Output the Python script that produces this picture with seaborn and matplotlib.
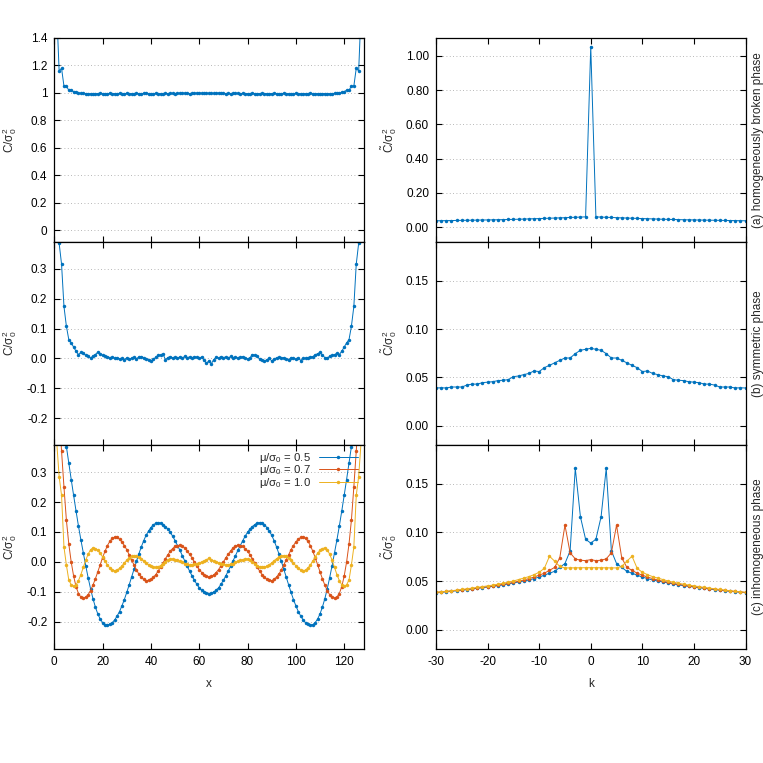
import matplotlib
matplotlib.use("Agg")
import matplotlib.pyplot as plt
from matplotlib.ticker import FormatStrFormatter, MultipleLocator
import seaborn as sns

# lattice sites (x-space) and momentum modes (k-space)
x_sites = list(range(1, 128))
k_modes = list(range(-30, 31))

# (a) homogeneously broken phase
corr_x_broken = [
    1.60, 1.16, 1.18, 1.05, 1.05, 1.02, 1.02, 1.01, 1.005, 1.000,
    0.998, 0.997, 0.996, 0.995, 0.995, 0.996, 0.995, 0.996, 0.997, 0.995,
    0.996, 0.995, 0.997, 0.996, 0.995, 0.996, 0.997, 0.996, 0.995, 0.997,
    0.996, 0.995, 0.996, 0.997, 0.996, 0.995, 0.997, 0.998, 0.996, 0.995,
    0.996, 0.997, 0.996, 0.995, 0.996, 0.997, 0.996, 0.998, 0.997, 0.996,
    0.997, 0.999, 1.000, 0.998, 0.997, 0.996, 0.997, 0.998, 0.999, 1.000,
    0.998, 0.997, 0.998, 0.997, 0.998, 0.997, 0.998, 1.000, 0.999, 0.997,
    0.996, 0.997, 0.996, 0.997, 0.998, 0.997, 0.996, 0.997, 0.996, 0.995,
    0.996, 0.997, 0.996, 0.995, 0.996, 0.997, 0.996, 0.995, 0.996, 0.995,
    0.997, 0.996, 0.995, 0.996, 0.997, 0.996, 0.995, 0.996, 0.995, 0.997,
    0.996, 0.995, 0.996, 0.995, 0.996, 0.997, 0.995, 0.996, 0.995, 0.996,
    0.995, 0.996, 0.995, 0.995, 0.996, 0.997, 0.998, 1.000, 1.005, 1.010,
    1.02, 1.02, 1.05, 1.05, 1.18, 1.16, 1.60,
]
corr_k_broken = [
    0.037, 0.0375, 0.038, 0.0385, 0.039, 0.0395, 0.040, 0.0405, 0.041, 0.0415,
    0.042, 0.0425, 0.043, 0.0438, 0.0445, 0.0453, 0.046, 0.047, 0.048, 0.049,
    0.050, 0.051, 0.052, 0.053, 0.054, 0.055, 0.0565, 0.0575, 0.0585, 0.060,
    1.055,
    0.060, 0.0585, 0.0575, 0.0565, 0.055, 0.054, 0.053, 0.052, 0.051, 0.050,
    0.049, 0.048, 0.047, 0.046, 0.0453, 0.0445, 0.0438, 0.043, 0.0425, 0.042,
    0.0415, 0.041, 0.0405, 0.040, 0.0395, 0.039, 0.0385, 0.038, 0.0375, 0.037,
]

# (b) symmetric phase
corr_x_sym = [
    0.60, 0.386, 0.316, 0.174, 0.108, 0.063, 0.052, 0.038, 0.024, 0.013,
    0.020, 0.017, 0.010, 0.008, 0.001, 0.008, 0.013, 0.021, 0.016, 0.010,
    0.008, 0.006, 0.003, 0.004, 0.001, 0.002, -0.001, 0.000, -0.004, 0.002,
    -0.003, 0.001, 0.004, -0.001, 0.005, 0.006, 0.003, -0.002, -0.004, -0.009,
    -0.003, 0.004, 0.010, 0.012, 0.015, -0.004, 0.003, 0.006, 0.002, 0.004,
    0.000, 0.006, 0.001, 0.007, 0.003, 0.005, 0.000, 0.006, 0.004, 0.001,
    0.005, -0.006, -0.016, -0.008, -0.018, -0.004, 0.004, 0.001, 0.006, 0.003,
    0.005, 0.000, 0.007, 0.002, 0.005, 0.001, 0.004, 0.006, 0.002, -0.002,
    0.002, 0.013, 0.011, 0.008, -0.002, -0.004, -0.009, -0.004, 0.000, -0.008,
    -0.002, 0.002, 0.004, 0.001, 0.003, -0.002, -0.004, 0.002, 0.001, -0.003,
    0.003, -0.007, 0.000, 0.001, 0.003, 0.005, 0.006, 0.012, 0.016, 0.020,
    0.011, 0.003, 0.000, 0.008, 0.010, 0.013, 0.017, 0.013, 0.024, 0.038,
    0.052, 0.063, 0.108, 0.174, 0.316, 0.386, 0.60,
]
corr_k_sym = [
    0.039, 0.0392, 0.039, 0.040, 0.040, 0.040, 0.042, 0.043, 0.043, 0.0445,
    0.045, 0.0455, 0.0466, 0.047, 0.0476, 0.0507, 0.0514, 0.0528, 0.054, 0.0566,
    0.056, 0.060, 0.0624, 0.065, 0.0676, 0.070, 0.070, 0.0745, 0.078, 0.079,
    0.080,
    0.079, 0.078, 0.0745, 0.070, 0.070, 0.0676, 0.065, 0.0624, 0.060, 0.056,
    0.0566, 0.054, 0.0528, 0.0514, 0.0507, 0.0476, 0.047, 0.0466, 0.0455, 0.045,
    0.0445, 0.043, 0.043, 0.042, 0.040, 0.040, 0.040, 0.039, 0.0392, 0.039,
]

# (c) inhomogeneous phase, three chemical potentials
mu_labels = [r"$\mathregular{\mu/\sigma_0}$ = 0.5",
             r"$\mathregular{\mu/\sigma_0}$ = 0.7",
             r"$\mathregular{\mu/\sigma_0}$ = 1.0"]
corr_x_mu05 = [
    0.80, 0.68, 0.56, 0.45, 0.385, 0.330, 0.275, 0.222, 0.170, 0.120,
    0.074, 0.031, -0.012, -0.052, -0.089, -0.122, -0.150, -0.173, -0.190, -0.202,
    -0.209, -0.210, -0.208, -0.202, -0.193, -0.180, -0.165, -0.146, -0.125, -0.101,
    -0.076, -0.050, -0.024, 0.002, 0.027, 0.050, 0.071, 0.089, 0.103, 0.115,
    0.124, 0.129, 0.131, 0.130, 0.125, 0.118, 0.110, 0.099, 0.086, 0.071,
    0.055, 0.039, 0.021, 0.004, -0.014, -0.030, -0.046, -0.061, -0.074, -0.086,
    -0.094, -0.100, -0.104, -0.105, -0.104, -0.100, -0.094, -0.086, -0.074, -0.061,
    -0.046, -0.030, -0.014, 0.004, 0.021, 0.039, 0.055, 0.071, 0.086, 0.099,
    0.110, 0.118, 0.125, 0.130, 0.131, 0.129, 0.124, 0.115, 0.103, 0.089,
    0.071, 0.050, 0.027, 0.002, -0.024, -0.050, -0.076, -0.101, -0.125, -0.146,
    -0.165, -0.180, -0.193, -0.202, -0.208, -0.210, -0.209, -0.202, -0.190, -0.173,
    -0.150, -0.122, -0.089, -0.052, -0.012, 0.031, 0.074, 0.120, 0.170, 0.222,
    0.275, 0.330, 0.385, 0.45, 0.56, 0.68, 0.80,
]
corr_x_mu07 = [
    0.65, 0.50, 0.37, 0.25, 0.14, 0.060, 0.000, -0.047, -0.082, -0.105,
    -0.117, -0.120, -0.117, -0.109, -0.095, -0.077, -0.056, -0.033, -0.009, 0.015,
    0.036, 0.055, 0.069, 0.079, 0.083, 0.082, 0.076, 0.067, 0.055, 0.041,
    0.024, 0.007, -0.010, -0.026, -0.040, -0.050, -0.058, -0.062, -0.061, -0.058,
    -0.051, -0.042, -0.030, -0.017, -0.003, 0.011, 0.024, 0.036, 0.045, 0.052,
    0.055, 0.056, 0.053, 0.047, 0.037, 0.026, 0.014, 0.000, -0.013, -0.025,
    -0.035, -0.043, -0.048, -0.050, -0.048, -0.043, -0.035, -0.025, -0.013, 0.000,
    0.014, 0.026, 0.037, 0.047, 0.053, 0.056, 0.055, 0.052, 0.045, 0.036,
    0.024, 0.011, -0.003, -0.017, -0.030, -0.042, -0.051, -0.058, -0.061, -0.062,
    -0.058, -0.050, -0.040, -0.026, -0.010, 0.007, 0.024, 0.041, 0.055, 0.067,
    0.076, 0.082, 0.083, 0.079, 0.069, 0.055, 0.036, 0.015, -0.009, -0.033,
    -0.056, -0.077, -0.095, -0.109, -0.117, -0.120, -0.117, -0.105, -0.082, -0.047,
    0.000, 0.060, 0.14, 0.25, 0.37, 0.50, 0.65,
]
corr_x_mu10 = [
    0.40, 0.285, 0.222, 0.050, -0.010, -0.060, -0.076, -0.081, -0.076, -0.062,
    -0.042, -0.018, 0.006, 0.026, 0.041, 0.047, 0.045, 0.039, 0.029, 0.017,
    0.003, -0.010, -0.020, -0.027, -0.029, -0.027, -0.021, -0.013, -0.003, 0.006,
    0.014, 0.019, 0.021, 0.020, 0.016, 0.011, 0.004, -0.003, -0.009, -0.014,
    -0.017, -0.018, -0.016, -0.012, -0.005, 0.001, 0.007, 0.010, 0.010, 0.008,
    0.006, 0.002, -0.001, -0.005, -0.007, -0.009, -0.009, -0.008, -0.006, -0.003,
    0.000, 0.003, 0.007, 0.013, 0.007, 0.003, 0.000, -0.003, -0.006, -0.008,
    -0.009, -0.009, -0.007, -0.005, -0.001, 0.002, 0.006, 0.008, 0.010, 0.010,
    0.007, 0.001, -0.005, -0.012, -0.016, -0.018, -0.017, -0.014, -0.009, -0.003,
    0.004, 0.011, 0.016, 0.020, 0.021, 0.019, 0.014, 0.006, -0.003, -0.013,
    -0.021, -0.027, -0.029, -0.027, -0.020, -0.010, 0.003, 0.017, 0.029, 0.039,
    0.045, 0.047, 0.041, 0.026, 0.006, -0.018, -0.042, -0.062, -0.076, -0.081,
    -0.076, -0.060, -0.010, 0.050, 0.222, 0.285, 0.40,
]
corr_k_mu05 = [
    0.038, 0.0385, 0.039, 0.0395, 0.040, 0.0406, 0.0412, 0.0418, 0.0425, 0.0432,
    0.0438, 0.0445, 0.0452, 0.046, 0.047, 0.048, 0.049, 0.050, 0.051, 0.0525,
    0.054, 0.056, 0.058, 0.060, 0.064, 0.068, 0.081, 0.166, 0.116, 0.093,
    0.089,
    0.093, 0.116, 0.166, 0.081, 0.068, 0.064, 0.060, 0.058, 0.056, 0.054,
    0.0525, 0.051, 0.050, 0.049, 0.048, 0.047, 0.046, 0.0452, 0.0445, 0.0438,
    0.0432, 0.0425, 0.0418, 0.0412, 0.0406, 0.040, 0.0395, 0.039, 0.0385, 0.038,
]
corr_k_mu07 = [
    0.0382, 0.0387, 0.0392, 0.0397, 0.0403, 0.0409, 0.0415, 0.0421, 0.0428, 0.0435,
    0.0442, 0.0449, 0.0457, 0.0466, 0.0475, 0.0486, 0.0497, 0.051, 0.0525, 0.054,
    0.056, 0.058, 0.061, 0.064, 0.074, 0.1075, 0.079, 0.0728, 0.0714, 0.071,
    0.072,
    0.071, 0.0714, 0.0728, 0.079, 0.1075, 0.074, 0.064, 0.061, 0.058, 0.056,
    0.054, 0.0525, 0.051, 0.0497, 0.0486, 0.0475, 0.0466, 0.0457, 0.0449, 0.0442,
    0.0435, 0.0428, 0.0421, 0.0415, 0.0409, 0.0403, 0.0397, 0.0392, 0.0387, 0.0382,
]
corr_k_mu10 = [
    0.0384, 0.0389, 0.0394, 0.040, 0.0406, 0.0413, 0.042, 0.0427, 0.0434, 0.0442,
    0.045, 0.0458, 0.0467, 0.0477, 0.0488, 0.050, 0.0515, 0.053, 0.0545, 0.0565,
    0.059, 0.063, 0.0755, 0.0704, 0.065, 0.0635, 0.0635, 0.0636, 0.0636, 0.0637,
    0.0637,
    0.0637, 0.0636, 0.0636, 0.0635, 0.0635, 0.065, 0.0704, 0.0755, 0.063, 0.059,
    0.0565, 0.0545, 0.053, 0.0515, 0.050, 0.0488, 0.0477, 0.0467, 0.0458, 0.045,
    0.0442, 0.0434, 0.0427, 0.042, 0.0413, 0.0406, 0.040, 0.0394, 0.0389, 0.0384,
]

phase_labels = ["(a) homogeneously broken phase", "(b) symmetric phase",
                "(c) inhomogeneous phase"]
colors = ["#0072bd", "#d95319", "#edb120"]

sns.set_theme(style="ticks")
plt.rcParams["font.family"] = ["Liberation Sans", "DejaVu Sans"]
plt.rcParams["mathtext.fontset"] = "custom"
plt.rcParams["mathtext.rm"] = "Liberation Sans"
plt.rcParams["mathtext.it"] = "Liberation Sans:italic"
plt.rcParams["mathtext.default"] = "regular"
plt.rcParams["axes.unicode_minus"] = False

fig = plt.figure(figsize=(7.63, 7.63), dpi=100)

W = 763.0
rows = [(38, 242), (242, 445), (445, 649)]
left_x = (54.3, 363.5)
right_x = (436.0, 745.5)

ax_x, ax_k = [], []
for top, bot in rows:
    ax_x.append(fig.add_axes([left_x[0] / W, 1 - bot / W, (left_x[1] - left_x[0]) / W, (bot - top) / W]))
    ax_k.append(fig.add_axes([right_x[0] / W, 1 - bot / W, (right_x[1] - right_x[0]) / W, (bot - top) / W]))

line_kw = dict(marker="o", markersize=2.5, markeredgewidth=0, linewidth=0.7)

# x-space panels
sns.lineplot(x=x_sites, y=corr_x_broken, ax=ax_x[0], color=colors[0], **line_kw)
sns.lineplot(x=x_sites, y=corr_x_sym, ax=ax_x[1], color=colors[0], **line_kw)
for vals, lab, c in zip([corr_x_mu05, corr_x_mu07, corr_x_mu10], mu_labels, colors):
    sns.lineplot(x=x_sites, y=vals, ax=ax_x[2], color=c, label=lab, **line_kw)

# k-space panels
sns.lineplot(x=k_modes, y=corr_k_broken, ax=ax_k[0], color=colors[0], **line_kw)
sns.lineplot(x=k_modes, y=corr_k_sym, ax=ax_k[1], color=colors[0], **line_kw)
for vals, c in zip([corr_k_mu05, corr_k_mu07, corr_k_mu10], colors):
    sns.lineplot(x=k_modes, y=vals, ax=ax_k[2], color=c, **line_kw)

ax_x[2].legend(loc="upper right", frameon=False, markerfirst=False, fontsize=8.2,
               handlelength=3.4, handletextpad=0.7, labelspacing=-0.12,
               borderaxespad=0.1)

# limits / ticks
ax_x[0].set_ylim(-0.084, 1.4)
ax_x[0].yaxis.set_major_locator(MultipleLocator(0.2))
ax_x[0].yaxis.set_major_formatter(FormatStrFormatter("%g"))
for ax in ax_x[1:]:
    ax.set_ylim(-0.29, 0.39)
    ax.yaxis.set_major_locator(MultipleLocator(0.1))
    ax.yaxis.set_major_formatter(FormatStrFormatter("%.1f"))
for ax in ax_x:
    ax.set_xlim(0, 128)
    ax.xaxis.set_major_locator(MultipleLocator(20))
    ax.set_ylabel(r"$\mathregular{C/\sigma_0^2}$", fontsize=8.5)
    ax.yaxis.set_label_coords(-0.115, 0.5)

ax_k[0].set_ylim(-0.087, 1.105)
ax_k[0].yaxis.set_major_locator(MultipleLocator(0.2))
ax_k[0].yaxis.set_major_formatter(FormatStrFormatter("%.2f"))
for ax in ax_k[1:]:
    ax.set_ylim(-0.02, 0.19)
    ax.yaxis.set_major_locator(MultipleLocator(0.05))
    ax.yaxis.set_major_formatter(FormatStrFormatter("%.2f"))
for ax, lab in zip(ax_k, phase_labels):
    ax.set_xlim(-30, 30)
    ax.xaxis.set_major_locator(MultipleLocator(10))
    ax.set_ylabel(r"$\mathregular{\tilde{C}/\sigma_0^2}$", fontsize=8.5)
    ax.yaxis.set_label_coords(-0.12, 0.5)
    ax.text(1.039, 0.5, lab, rotation=90, ha="center", va="center",
            fontsize=8.5, transform=ax.transAxes)

for ax in ax_x + ax_k:
    ax.tick_params(direction="in", top=True, right=True, length=4.5, width=0.8,
                   labelsize=8.5, colors="black", pad=5)
    ax.tick_params(axis="y", pad=5)
    ax.minorticks_off()
    ax.grid(axis="y", linestyle=(0, (1, 3)), linewidth=0.6, color="#a0a0a0")
    ax.grid(axis="x", visible=False)
    for sp in ax.spines.values():
        sp.set_visible(True)
        sp.set_linewidth(0.9)
        sp.set_color("black")
    ax.set_xlabel("")

for ax in ax_x[:2] + ax_k[:2]:
    ax.tick_params(labelbottom=False)

ax_x[2].set_xlabel("x", fontsize=8.5, labelpad=7)
ax_k[2].set_xlabel("k", fontsize=8.5, labelpad=7)

fig.savefig("out.png", dpi=100, facecolor="white")
